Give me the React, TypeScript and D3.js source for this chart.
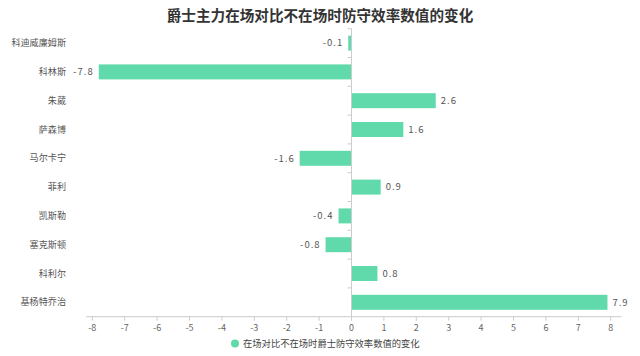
import React from "react";
import * as d3 from "d3";

const title = "爵士主力在场对比不在场时防守效率数值的变化";
const seriesName = "在场对比不在场时爵士防守效率数值的变化";
const players = ["科迪威廉姆斯", "科林斯", "朱葳", "萨森博", "马尔卡宁", "菲利", "凯斯勒", "塞克斯顿", "科利尔", "基杨特乔治"];
const values = [-0.1, -7.8, 2.6, 1.6, -1.6, 0.9, -0.4, -0.8, 0.8, 7.9];
const xTicks = [-8, -7, -6, -5, -4, -3, -2, -1, 0, 1, 2, 3, 4, 5, 6, 7, 8];

const W = 640;
const H = 356;
const FONT = "'Noto Sans CJK SC', 'Noto Sans', sans-serif";
const BAR = "#60d9ab";

export default function App() {
  const x = d3.scaleLinear().domain([-8, 8]).range([92.3, 610.7]);
  const axisLeft = x(-8.19);
  const axisRight = x(8.33);
  const top = 28.7;
  const bottom = 316.7;
  const y = d3.scaleBand<string>().domain(players).range([top, bottom]).paddingInner(0.48).paddingOuter(0.24);
  const band = (bottom - top) / players.length;
  const x0 = x(0);

  return (
    <svg width={W} height={H} style={{ position: "absolute", left: 0, top: 0, background: "#fff" }} fontFamily={FONT}>
      <text x={W / 2} y={16} dy="0.35em" textAnchor="middle" fontSize={14.6} fontWeight="bold" fill="#333">{title}</text>

      {/* bars */}
      {players.map((p, i) => {
        const v = values[i];
        const xa = x(Math.min(0, v));
        const xb = x(Math.max(0, v));
        const yy = y(p)!;
        return (
          <g key={p}>
            <rect x={xa} y={yy} width={xb - xa} height={y.bandwidth()} fill={BAR} />
            <text
              x={v < 0 ? xa - 5 : xb + 5}
              y={yy + y.bandwidth() / 2}
              dy="0.35em"
              textAnchor={v < 0 ? "end" : "start"}
              fontSize={9.5}
              fill="#555"
              letterSpacing={1}
            >{v.toFixed(1)}</text>
          </g>
        );
      })}

      {/* x axis */}
      <line x1={axisLeft} x2={axisRight} y1={bottom} y2={bottom} stroke="#ccc" />
      {xTicks.map((t) => (
        <g key={t}>
          <line x1={x(t)} x2={x(t)} y1={bottom} y2={bottom + 4} stroke="#ccc" />
          <text x={x(t)} y={bottom + 11} dy="0.35em" textAnchor="middle" fontSize={9} fill="#666">{t}</text>
        </g>
      ))}

      {/* y axis */}
      <line x1={x0} x2={x0} y1={top} y2={bottom} stroke="#ccc" />
      {players.map((p, i) => (
        <line key={"yt" + p} x1={x0 - 4} x2={x0} y1={top + band * i} y2={top + band * i} stroke="#ccc" />
      ))}
      {players.map((p) => (
        <text key={"yl" + p} x={66} y={y(p)! + y.bandwidth() / 2} dy="0.35em" textAnchor="end" fontSize={9.1} fill="#555">{p}</text>
      ))}

      {/* legend */}
      <circle cx={235} cy={343.5} r={4} fill={BAR} />
      <text x={243} y={343.5} dy="0.35em" fontSize={9.3} fill="#444">{seriesName}</text>
    </svg>
  );
}
